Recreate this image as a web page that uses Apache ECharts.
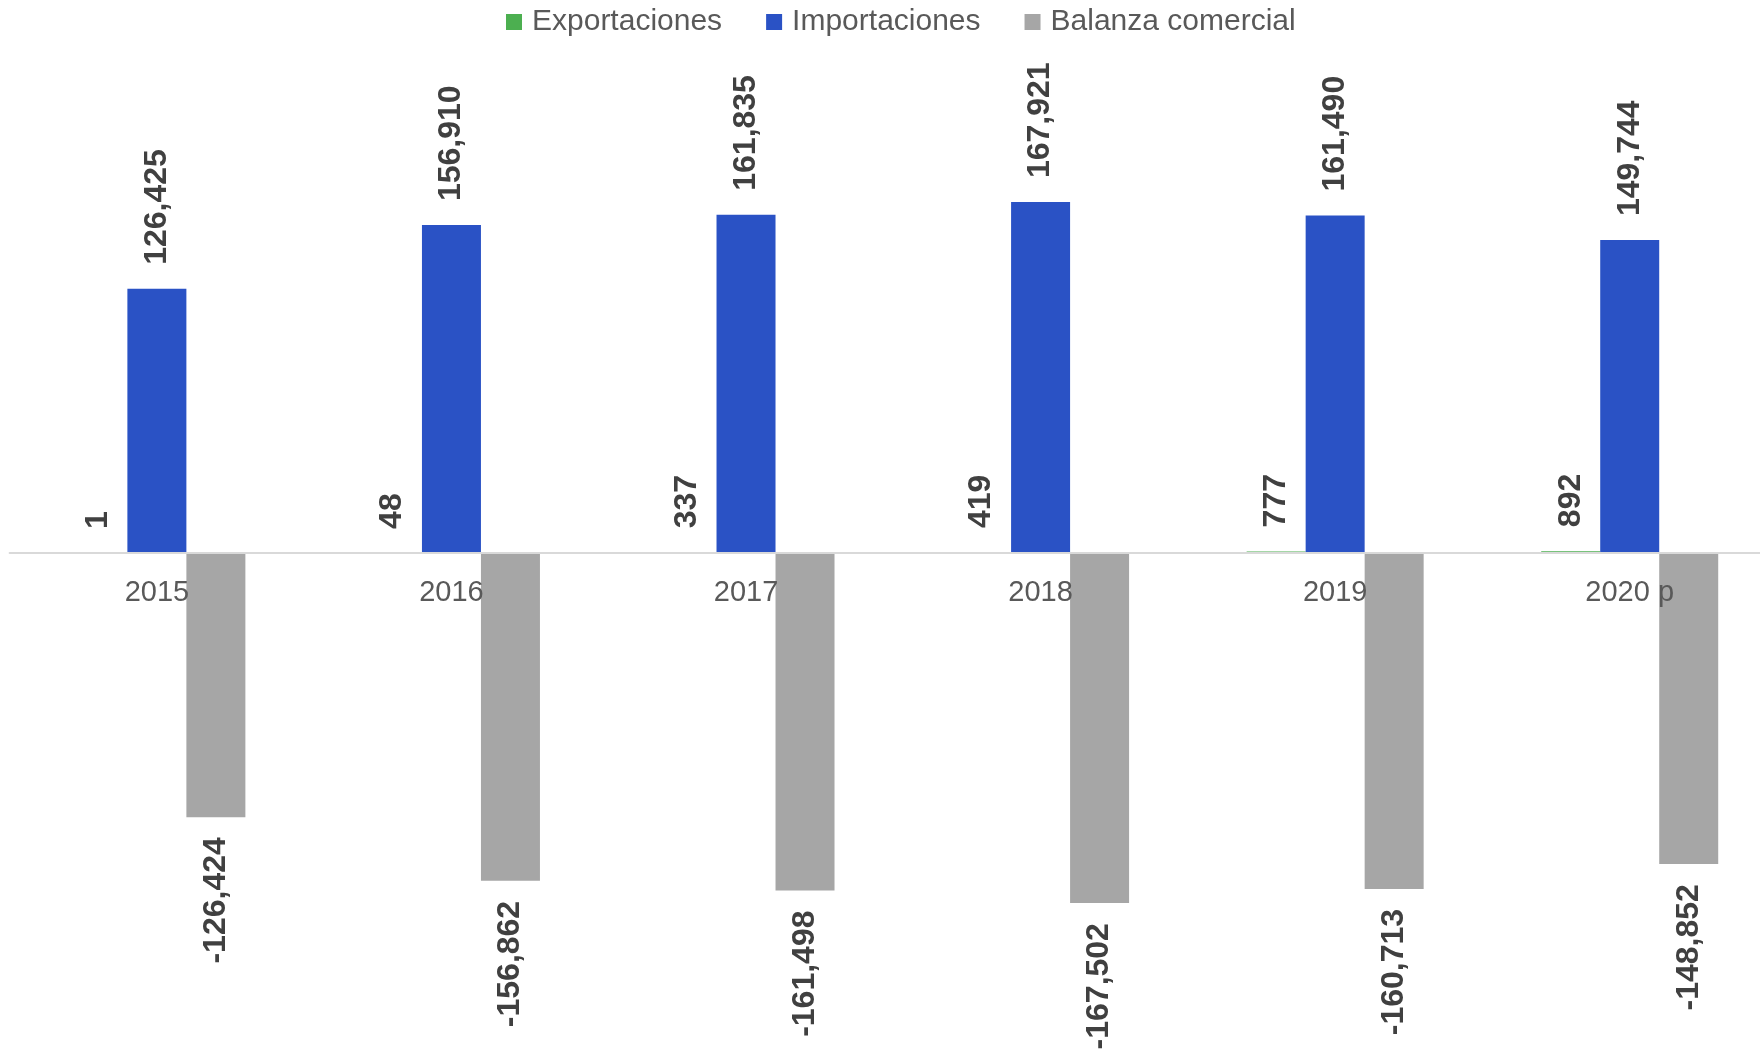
<!DOCTYPE html>
<html>
<head>
<meta charset="utf-8">
<script src="https://cdn.jsdelivr.net/npm/echarts@6/dist/echarts.min.js"></script>
<style>
html,body{margin:0;padding:0;background:#fff;overflow:hidden;}
#chart{width:1780px;height:1053px;}
</style>
</head>
<body>
<div id="chart"></div>
<script>
const categories = ['2015', '2016', '2017', '2018', '2019', '2020 p'];
const exportaciones = [1, 48, 337, 419, 777, 892];
const importaciones = [126425, 156910, 161835, 167921, 161490, 149744];
const balanza = [-126424, -156862, -161498, -167502, -160713, -148852];
const seriesNames = ['Exportaciones', 'Importaciones', 'Balanza comercial'];
const colors = ['#4CAF50', '#2A52C5', '#A6A6A6'];

const fmt = p => p.value.toLocaleString('en-US');
const labelBase = {
  show: true,
  rotate: 90,
  verticalAlign: 'middle',
  fontFamily: 'Liberation Sans',
  fontWeight: 'bold',
  fontSize: 32,
  color: '#404040',
  formatter: fmt
};

const chart = echarts.init(document.getElementById('chart'), null, {renderer: 'canvas'});
chart.setOption({
  animation: false,
  backgroundColor: '#ffffff',
  color: colors,
  legend: {
    data: seriesNames,
    left: 506,
    top: 7,
    padding: 0,
    itemWidth: 16,
    itemHeight: 16,
    itemGap: 44,
    icon: 'rect',
    textStyle: {fontFamily: 'Liberation Sans', fontSize: 30, color: '#595959', padding: [0, 0, 0, 5]}
  },
  grid: {left: 9.6, top: 135, width: 1767.4, height: 836, containLabel: false},
  xAxis: {
    type: 'category',
    data: categories,
    z: 5,
    offset: -418,
    axisLine: {show: true, onZero: false, lineStyle: {color: '#D9D9D9', width: 2}},
    axisTick: {show: false},
    axisLabel: {fontFamily: 'Liberation Sans', fontSize: 29, color: '#595959', margin: 25, interval: 0}
  },
  yAxis: {
    type: 'value',
    min: -200000,
    max: 200000,
    show: false,
    splitLine: {show: false}
  },
  series: [
    {
      name: seriesNames[0], type: 'bar', data: exportaciones,
      barWidth: 59, barGap: '0%',
      label: Object.assign({}, labelBase, {position: 'top', align: 'left', distance: 24})
    },
    {
      name: seriesNames[1], type: 'bar', data: importaciones,
      barWidth: 59, barGap: '0%',
      label: Object.assign({}, labelBase, {position: 'top', align: 'left', distance: 24})
    },
    {
      name: seriesNames[2], type: 'bar', data: balanza,
      barWidth: 59, barGap: '0%',
      label: Object.assign({}, labelBase, {position: 'bottom', align: 'right', distance: 20})
    }
  ]
});
</script>
</body>
</html>
